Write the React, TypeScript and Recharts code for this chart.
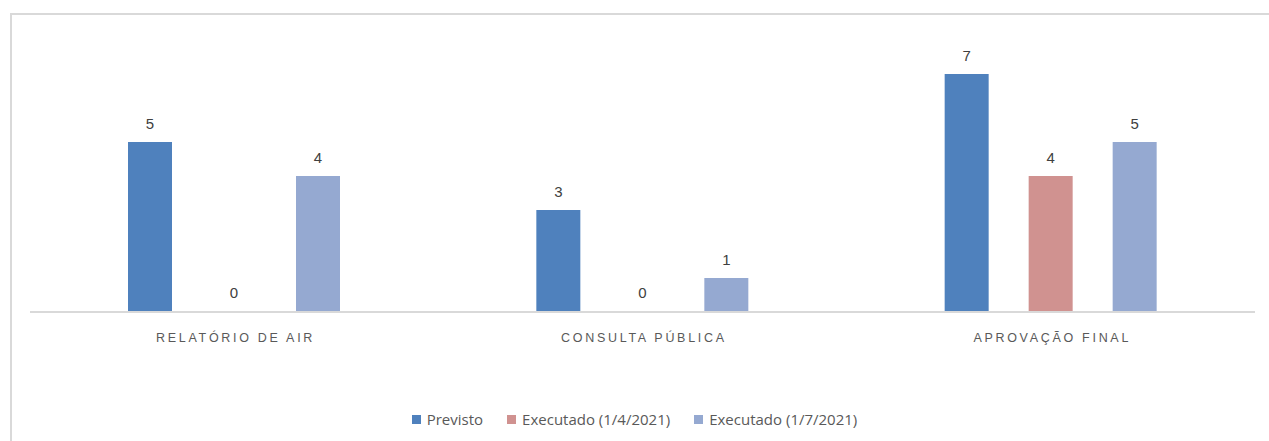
import { BarChart, Bar, XAxis, YAxis, Legend, LabelList, Cell } from "recharts";

const categories = ["RELATÓRIO DE AIR", "CONSULTA PÚBLICA", "APROVAÇÃO FINAL"];
const previsto = [5, 3, 7];
const executado1 = [0, 0, 4];
const executado2 = [4, 1, 5];

const series = [
  { key: "previsto", name: "Previsto", color: "#4f81bd", values: previsto },
  { key: "exec1", name: "Executado (1/4/2021)", color: "#d09290", values: executado1 },
  { key: "exec2", name: "Executado (1/7/2021)", color: "#95a9d1", values: executado2 },
];

const data = categories.map((c, i) => ({
  category: c,
  previsto: previsto[i],
  exec1: executado1[i],
  exec2: executado2[i],
}));

const FONT = "'Liberation Sans', Arial, sans-serif";
const LEGEND_FONT = "'Open Sans', 'Liberation Sans', sans-serif";

function CategoryTick(props: any) {
  const { x, y, payload } = props;
  return (
    <text
      x={x + 1.4}
      y={y + 19}
      textAnchor="middle"
      dominantBaseline="middle"
      fill="#595959"
      fontSize={12.5}
      fontFamily={FONT}
      letterSpacing={2.7}
    >
      {payload.value}
    </text>
  );
}

function LegendContent() {
  return (
    <div
      style={{
        display: "flex",
        justifyContent: "center",
        alignItems: "center",
        height: 24,
        fontFamily: LEGEND_FONT,
        fontSize: 15,
        color: "#595959",
        transform: "translateX(-8px)",
      }}
    >
      {series.map((s) => (
        <div key={s.key} style={{ display: "flex", alignItems: "center", margin: "0 12px" }}>
          <span style={{ width: 9, height: 9, background: s.color, marginRight: 6, display: "inline-block" }} />
          <span>{s.name}</span>
        </div>
      ))}
    </div>
  );
}

export default function App() {
  return (
    <div style={{ position: "absolute", left: 0, top: 0, width: 1269, height: 441, overflow: "hidden", background: "#fff" }}>
      <div
        style={{
          position: "absolute",
          left: 10,
          top: 13,
          width: 1300,
          height: 460,
          border: "2px solid #d9d9d9",
          boxSizing: "border-box",
        }}
      />
      <div style={{ position: "absolute", left: 0, top: 0 }}>
        <BarChart
          width={1269}
          height={441}
          data={data}
          margin={{ top: 40, right: 14, left: 30, bottom: 10 }}
          barSize={44}
          barGap={40}
        >
          <XAxis
            dataKey="category"
            axisLine={{ stroke: "#d9d9d9", strokeWidth: 2 }}
            tickLine={false}
            tick={<CategoryTick />}
            height={95}
            interval={0}
          />
          <YAxis hide domain={[0, 8]} />
          <Legend verticalAlign="bottom" height={24} content={<LegendContent />} />
          {series.map((s) => (
            <Bar
              key={s.key}
              dataKey={s.key}
              name={s.name}
              fill={s.color}
              minPointSize={(v: number) => (v === 0 ? 1 : 0)}
              isAnimationActive={false}
            >
              {s.values.map((v, i) => (
                <Cell key={i} fill={s.color} fillOpacity={v === 0 ? 0 : 1} />
              ))}
              <LabelList
                dataKey={s.key}
                position="top"
                offset={13}
                fill="#404040"
                fontSize={15}
                fontFamily={FONT}
              />
            </Bar>
          ))}
        </BarChart>
      </div>
    </div>
  );
}
